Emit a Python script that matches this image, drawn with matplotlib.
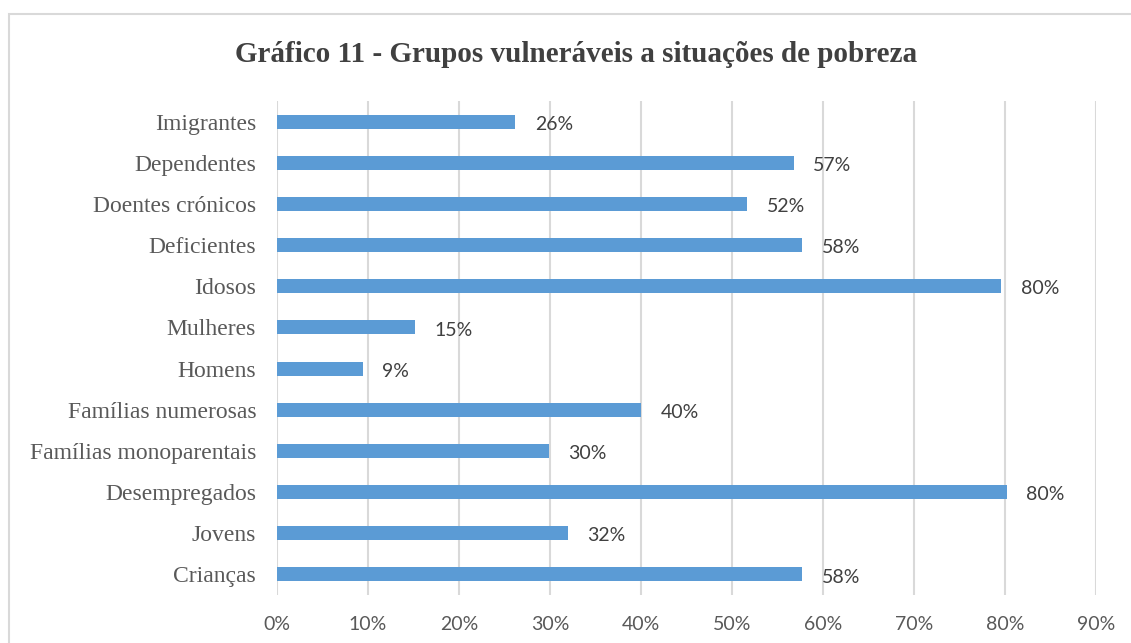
import matplotlib
matplotlib.use('Agg')
import matplotlib.pyplot as plt
from matplotlib.patches import Rectangle
from matplotlib.ticker import PercentFormatter

# dados (de cima para baixo)
grupos = ['Imigrantes', 'Dependentes', 'Doentes crónicos', 'Deficientes', 'Idosos',
          'Mulheres', 'Homens', 'Famílias numerosas', 'Famílias monoparentais',
          'Desempregados', 'Jovens', 'Crianças']
percentagens = [26.2, 56.8, 51.7, 57.7, 79.6, 15.2, 9.4, 40.0, 29.9, 80.2, 32.0, 57.7]
ticks_x = [0, 10, 20, 30, 40, 50, 60, 70, 80, 90]

cor_barra = '#5B9BD5'
serif = ['Liberation Serif', 'DejaVu Serif']
sans = ['Lato', 'DejaVu Sans']

fig = plt.figure(figsize=(11.31, 6.43), dpi=100)
ax = fig.add_axes([0.2449, 0.0747, 0.969 - 0.2449, 0.843 - 0.0747])

# moldura do gráfico
fig.patches.append(Rectangle((9 / 1131, -0.05), 1.1, 1 - 14 / 643 + 0.05,
                             transform=fig.transFigure, fill=False,
                             edgecolor='#d9d9d9', linewidth=1.5, clip_on=False))

y = list(range(len(grupos)))[::-1]
ax.barh(y, percentagens, height=0.34, color=cor_barra, zorder=3)

for yi, v in zip(y, percentagens):
    ax.annotate(f'{v:.0f}%', (v, yi), xytext=(14, -2), textcoords='offset points',
                va='center', ha='left', fontsize=14, color='#404040', family=sans)

ax.set_xlim(0, 90)
ax.set_ylim(-0.5, len(grupos) - 0.5)
ax.set_xticks(ticks_x)
ax.xaxis.set_major_formatter(PercentFormatter(decimals=0))
ax.set_yticks(y)
ax.set_yticklabels(grupos, family=serif, fontsize=17, color='#595959')
for lbl in ax.get_xticklabels():
    lbl.set_family(sans)
    lbl.set_fontsize(14)
    lbl.set_color('#595959')
ax.tick_params(axis='x', length=0, pad=15)
ax.tick_params(axis='y', length=0, pad=15)

for s in ax.spines.values():
    s.set_visible(False)
ax.grid(axis='x', color='#d9d9d9', linewidth=1.5, zorder=0)
ax.set_axisbelow(True)

fig.text(0.509, 1 - 54 / 643, 'Gráfico 11 - Grupos vulneráveis a situações de pobreza',
         ha='center', va='center', fontsize=21, fontweight='bold',
         family=serif, color='#404040')

fig.savefig('out.png', dpi=100)
